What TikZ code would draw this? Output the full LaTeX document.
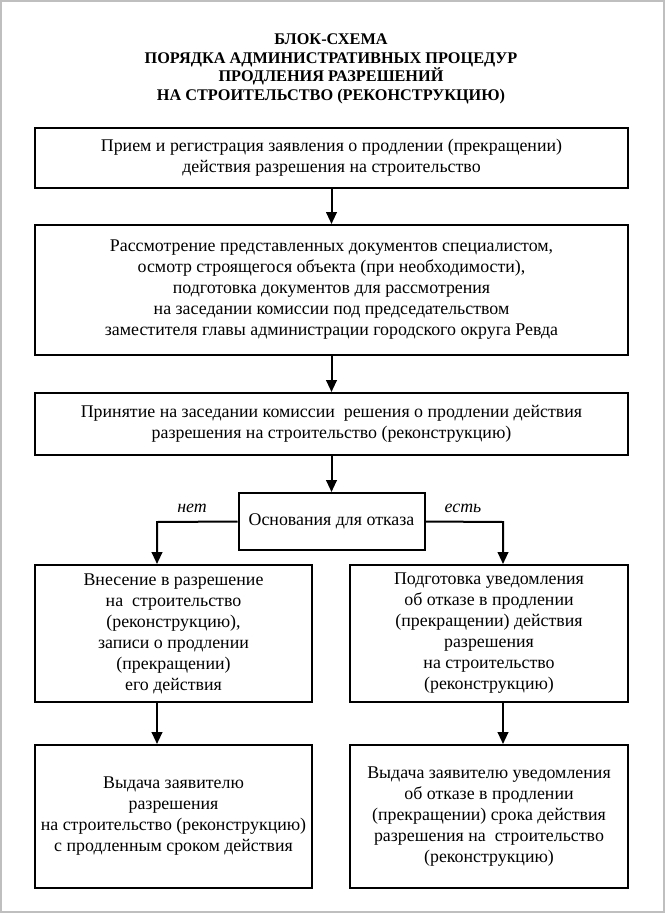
\documentclass[tikz,border=0pt]{standalone}
\usepackage{fontspec}
\setmainfont{Liberation Serif}
\usetikzlibrary{arrows.meta}

\begin{document}
\begin{tikzpicture}[x=0.75pt,y=-0.75pt,
    box/.style={draw, line width=1.5pt, align=center, inner sep=0pt,
        font=\fontsize{13.4}{15.75}\selectfont},
    arr/.style={line width=1.5pt, -{Triangle[length=9pt,width=8pt]}},
    lbl/.style={font=\fontsize{13.4}{15.75}\selectfont\itshape}]

    \useasboundingbox (0,0) rectangle (665,913);
    \draw[gray!50, line width=1.2pt] (1,1) rectangle (664,912);

%    title
\node[align=center, font=\fontsize{12.2}{14}\selectfont\bfseries] (title) at (331,69)
    {БЛОК-СХЕМА\\ ПОРЯДКА АДМИНИСТРАТИВНЫХ ПРОЦЕДУР\\ ПРОДЛЕНИЯ РАЗРЕШЕНИЙ\\ НА СТРОИТЕЛЬСТВО (РЕКОНСТРУКЦИЮ)};

\node[box, minimum width=444.75pt, minimum height=45pt] (priem) at (331.5,158)
    {Прием и регистрация заявления о продлении (прекращении)\\ действия разрешения на строительство};

\node[box, minimum width=444.75pt, minimum height=97.5pt] (rassm) at (331.5,290)
    {Рассмотрение представленных документов специалистом,\\ осмотр строящегося объекта (при необходимости),\\ подготовка документов для рассмотрения\\ на заседании комиссии под председательством\\ заместителя главы администрации городского округа Ревда};

\node[box, minimum width=444.75pt, minimum height=46.5pt] (prin) at (331.5,424)
    {Принятие на заседании комиссии \ решения о продлении действия\\ разрешения на строительство (реконструкцию)};

\node[box, minimum width=139.5pt, minimum height=42.75pt] (osn) at (331.5,521.5)
    {Основания для отказа};

\node[box, minimum width=207.75pt, minimum height=102.75pt] (vnes) at (173.5,633.5)
    {Внесение в разрешение\\ на \ строительство\\ (реконструкцию),\\ записи о продлении\\ (прекращении)\\ его действия};

\node[box, minimum width=208.5pt, minimum height=102.75pt] (podg) at (489,633.5)
    {Подготовка уведомления\\ об отказе в продлении\\ (прекращении) действия\\ разрешения\\ на строительство\\ (реконструкцию)};

\node[box, minimum width=207.75pt, minimum height=107.25pt] (vydR) at (173.5,816.5)
    {Выдача заявителю\\ разрешения\\ на строительство (реконструкцию)\\ с продленным сроком действия};

\node[box, minimum width=208.5pt, minimum height=107.25pt] (vydU) at (489,816.5)
    {Выдача заявителю уведомления\\ об отказе в продлении\\ (прекращении) срока действия\\ разрешения на \ строительство\\ (реконструкцию)};

\coordinate (net) at (157,522);
\coordinate (est) at (503,522);

\draw[arr] (priem) -- (rassm);
\draw[arr] (rassm) -- (prin);
\draw[arr] (prin) -- (osn);

\draw[arr] (osn.west) -- (net) -- (net |- vnes.north);
\draw[arr] (osn.east) -- (est) -- (est |- podg.north);

\draw[arr] (net |- vnes.south) -- (net |- vydR.north);
\draw[arr] (est |- podg.south) -- (est |- vydU.north);

\node[lbl] (lnet) at (192,508) {нет};
\node[lbl] (lest) at (463,508) {есть};

\end{tikzpicture}
\end{document}
